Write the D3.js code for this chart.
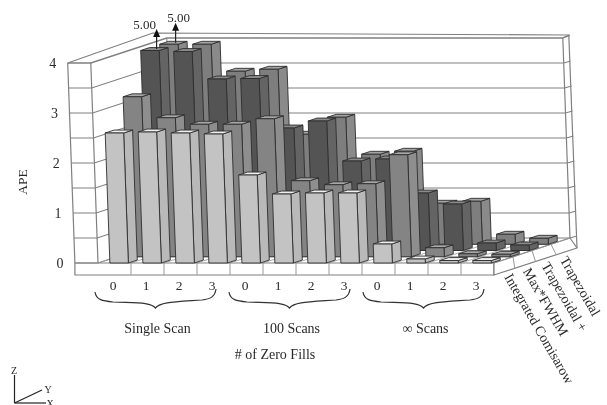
<!DOCTYPE html>
<html>
<head>
<meta charset="utf-8">
<script src="https://cdn.jsdelivr.net/npm/d3@7"></script>
<style>
    html, body { margin: 0; padding: 0; background: #fff; overflow: hidden; }
    svg { display: block; filter: blur(0.45px); }
    text { font-family: "Liberation Serif", serif; fill: #2a2a2a; }
</style>
</head>
<body>
<div id="chart"></div>
<script>
// Values. Rows run from the front of the floor to the back
const zeroFills = ["0", "1", "2", "3", "0", "1", "2", "3", "0", "1", "2", "3"];
const groups = ["Single Scan", "100 Scans", "∞ Scans"];
const methods = ["Integrated Comisarow", "Max*FWHM", "Trapezoidal +", "Trapezoidal"];
const apeTicks = [0, 1, 2, 3, 4];
const integratedComisarow = [2.6, 2.62, 2.6, 2.58, 1.76, 1.38, 1.4, 1.4, 0.38, 0.08, 0.05, 0.05];
const maxFwhm = [3.2, 2.78, 2.65, 2.65, 2.76, 1.52, 1.44, 1.46, 2.04, 0.18, 0.06, 0.05];
const trapezoidalPlus = [5.0, 3.98, 3.43, 3.44, 2.45, 2.59, 1.79, 1.83, 1.15, 0.93, 0.15, 0.11];
const trapezoidal = [5.0, 4.0, 3.46, 3.5, 2.2, 2.54, 1.8, 1.86, 0.82, 0.86, 0.2, 0.12];
const seriesValues = [integratedComisarow, maxFwhm, trapezoidalPlus, trapezoidal];

// Colorscheme, one row per series
const rowColors = [
    { face: "#c3c3c3", side: "#b9b9b9", top: "#efefef" },
    { face: "#848484", side: "#8e8e8e", top: "#a8a8a8" },
    { face: "#545454", side: "#646464", top: "#8a8a8a" },
    { face: "#7e7e7e", side: "#8a8a8a", top: "#a4a4a4" }
];
const wallLine = "#808080";
const barLine = "#2e2e2e";

const svg = d3.select("#chart").append("svg")
    .attr("width", 607)
    .attr("height", 405);

// Oblique projection of the box: column, depth row, APE value
const xScale = d3.scaleLinear().domain([0, 12]).range([98, 494]);
const depthX = d3.scaleLinear().domain([0, 4]).range([0, 76]);
const depthY = d3.scaleLinear().domain([0, 4]).range([0, 25]);
const zScale = d3.scaleLinear().domain([0, 4]).range([0, 200]);
const baseY = 263;
const lean = 0.036; // the verticals of the scan lean a little to the left

function project(col, depth, z) {
    const h = zScale(z);
    return [xScale(col) + depthX(depth) - lean * h, baseY - depthY(depth) - h];
}

const line = d3.line();

function poly(g, pts, fill, stroke, width) {
    return g.append("path")
        .attr("d", line(pts) + "Z")
        .attr("fill", fill)
        .attr("stroke", stroke)
        .attr("stroke-width", width)
        .attr("stroke-linejoin", "round");
}

function seg(g, pts, stroke, width) {
    return g.append("path")
        .attr("d", line(pts))
        .attr("fill", "none")
        .attr("stroke", stroke)
        .attr("stroke-width", width);
}

// --- Walls and floor ---
const frame = svg.append("g");
const leftEdge = -0.7; // the front strip runs past the first column
const shift = (p, dx, dy) => [p[0] + dx, p[1] + dy];

// Floor front strip and right hand strip
poly(frame, [project(leftEdge, 0, 0), project(12, 0, 0), shift(project(12, 0, 0), 0, 12), shift(project(leftEdge, 0, 0), 0, 12)], "#fff", wallLine, 1.2);
poly(frame, [project(12, 0, 0), project(12, 4, 0), shift(project(12, 4, 0), 7, 10), shift(project(12, 0, 0), 0, 12)], "#fff", wallLine, 1.2);
d3.range(1, 12).forEach(c => seg(frame, [project(c, 0, 0), shift(project(c, 0, 0), 0, 12)], "#999", 1));
d3.range(1, 4).forEach(d => {
    const p = project(12, d, 0);
    seg(frame, [p, shift(p, d * 1.75, 12 - d * 0.5)], "#999", 1);
});

// Gridlines round the three walls
d3.range(0, 8.5).forEach(i => {
    const z = i / 2;
    const a = project(leftEdge, 0, z);
    const b = project(0, 0, z);
    const c = project(0, 4, z);
    const d = project(12, 4, z);
    const e = shift(d, 7, z === 4 ? -3 : -2);
    seg(frame, [a, b, c, d, e], wallLine, i === 8 ? 1.4 : 1.1);
});

// Wall edges
seg(frame, [project(leftEdge, 0, 0), project(leftEdge, 0, 4)], wallLine, 1.2);
seg(frame, [project(0, 0, 0), project(0, 0, 4)], wallLine, 1.2);
seg(frame, [project(0, 4, 0), project(0, 4, 4)], wallLine, 1);
seg(frame, [project(12, 4, 0), project(12, 4, 4)], wallLine, 1.2);
seg(frame, [shift(project(12, 4, 0), 7, 10), shift(project(12, 4, 4), 6, -3)], wallLine, 1.2);
seg(frame, [project(leftEdge, 0, 4), shift(project(0, 4, 4), -14, -5), shift(project(12, 4, 4), 6, -3)], wallLine, 1.2);

// Floor cells between the bars
d3.range(1, 4).forEach(d => seg(frame, [project(0, d, 0), project(12, d, 0)], "#777", 0.8));
d3.range(0, 13).forEach(c => seg(frame, [project(c, 0, 0), project(c, 4, 0)], "#999", 0.8));

// --- Bars, back row first so the front rows cover them ---
const bars = svg.append("g");
const barStart = 0.36;  // in columns, from the left of the cell
const barWidth = 0.56;
const barDepth = 0.47;  // in rows

for (let r = seriesValues.length - 1; r >= 0; r--) {
    const colors = rowColors[r];
    seriesValues[r].forEach((value, c) => {
        // Values beyond the axis are cut at the top and get an arrow
        const z = Math.min(value, 4);
        const x0 = c + barStart;
        const x1 = x0 + barWidth;
        const d0 = r;
        const d1 = r + barDepth;

        poly(bars, [project(x1, d0, 0), project(x1, d1, 0), project(x1, d1, z), project(x1, d0, z)], colors.side, barLine, 0.9);
        poly(bars, [project(x0, d0, z), project(x1, d0, z), project(x1, d1, z), project(x0, d1, z)], colors.top, barLine, 0.9);
        poly(bars, [project(x0, d0, 0), project(x1, d0, 0), project(x1, d0, z), project(x0, d0, z)], colors.face, barLine, 0.9);
    });
}

// Arrows on the two bars that leave the chart
const arrows = svg.append("g");
seriesValues.forEach((values, r) => {
    values.forEach((value, c) => {
        if (value <= 4) return;
        const top = project(c + barStart + barWidth * 0.62, r + barDepth / 2, 4);
        const tip = [top[0], top[1] - 17];
        seg(arrows, [top, tip], "#222", 1.2);
        poly(arrows, [shift(tip, 0, -3), shift(tip, -3.5, 5), shift(tip, 3.5, 5)], "#111", "none", 0);
        arrows.append("text")
            .attr("x", tip[0] - (r === 2 ? 12 : -3))
            .attr("y", tip[1] + (r === 2 ? -3 : -4))
            .attr("text-anchor", "middle")
            .attr("font-size", 13)
            .text(value.toFixed(2));
    });
});

// --- Text ---
const labels = svg.append("g");

// APE ticks lean with the wall
apeTicks.forEach(t => {
    const p = project(leftEdge, 0, t);
    labels.append("text")
        .attr("x", p[0] - 15)
        .attr("y", p[1] + 5)
        .attr("text-anchor", "middle")
        .attr("font-size", 14)
        .text(t);
});

labels.append("text")
    .attr("transform", "translate(27,182) rotate(-90)")
    .attr("text-anchor", "middle")
    .attr("font-size", 13.5)
    .text("APE");

zeroFills.forEach((label, c) => {
    labels.append("text")
        .attr("x", xScale(c + 0.5) - 1.5)
        .attr("y", 290)
        .attr("text-anchor", "middle")
        .attr("font-size", 13.5)
        .text(label);
});

// Curly brace under each group of four columns
function bracePath(x0, x1, y) {
    const mid = (x0 + x1) / 2;
    const path = d3.path();
    path.moveTo(x0, y);
    path.bezierCurveTo(x0 + 1, y + 8, x0 + 8, y + 9, x0 + 18, y + 10);
    path.bezierCurveTo(mid - 18, y + 11, mid - 5, y + 10, mid, y + 16);
    path.bezierCurveTo(mid + 5, y + 10, mid + 18, y + 10, x1 - 14, y + 8);
    path.bezierCurveTo(x1 - 6, y + 7, x1 - 1, y + 5, x1, y - 3);
    return path.toString();
}

groups.forEach((name, i) => {
    const x0 = xScale(i * 4) - 3 + i * 2;
    const x1 = xScale(i * 4 + 4) - 14 + i * 2;
    labels.append("path")
        .attr("d", bracePath(x0, x1, 292))
        .attr("fill", "none")
        .attr("stroke", "#333")
        .attr("stroke-width", 1.2);
    labels.append("text")
        .attr("x", (x0 + x1) / 2 + 2)
        .attr("y", 333)
        .attr("text-anchor", "middle")
        .attr("font-size", 14)
        .text(name);
});

labels.append("text")
    .attr("x", 275)
    .attr("y", 359)
    .attr("text-anchor", "middle")
    .attr("font-size", 14)
    .text("# of Zero Fills");

// Depth axis names, written down the slope
methods.forEach((name, r) => {
    const p = project(12, r + 0.5, 0);
    labels.append("text")
        .attr("transform", `translate(${p[0] + 0.5 - r * 0.5},${p[1] + 17 + r * 0.5}) rotate(60)`)
        .attr("font-size", 14)
        .text(name);
});

// Axis triad in the corner
const triad = svg.append("g");
const origin = [14.5, 403];
seg(triad, [origin, [origin[0], 375]], "#222", 1.2);
seg(triad, [origin, [42, 390]], "#222", 1.2);
seg(triad, [origin, [46, 403]], "#222", 1.2);
[["Z", 14, 374], ["Y", 48, 393], ["X", 50, 407]].forEach(([name, x, y]) => {
    triad.append("text")
        .attr("x", x)
        .attr("y", y)
        .attr("text-anchor", "middle")
        .attr("font-size", 10)
        .text(name);
});
</script>
</body>
</html>
